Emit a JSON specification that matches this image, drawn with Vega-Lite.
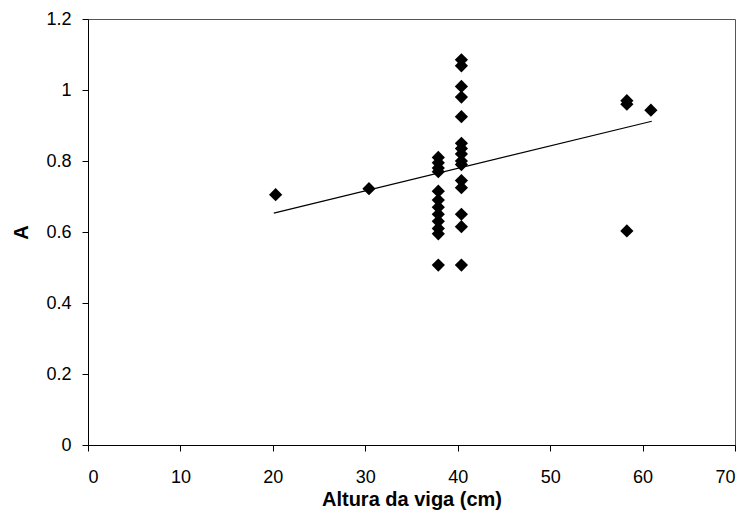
{
  "$schema": "https://vega.github.io/schema/vega-lite/v6.json",
  "width": 647,
  "height": 426,
  "autosize": "none",
  "padding": {"left": 88, "top": 19, "right": 13, "bottom": 77},
  "background": "white",
  "config": {
    "view": {"stroke": "#555555", "strokeWidth": 1},
    "font": "Liberation Sans",
    "axis": {
      "grid": false,
      "domainColor": "black",
      "domainWidth": 1,
      "tickColor": "black",
      "tickSize": 6,
      "labelFont": "Liberation Sans",
      "labelFontSize": 18,
      "labelColor": "black",
      "titleFont": "Liberation Sans",
      "titleFontSize": 20,
      "titleFontWeight": "bold",
      "titleColor": "black"
    }
  },
  "datasets": {
    "amostras": [
      {"altura": 20.3, "A": 0.705},
      {"altura": 30.4, "A": 0.722},
      {"altura": 37.9, "A": 0.81},
      {"altura": 37.9, "A": 0.795},
      {"altura": 37.9, "A": 0.78},
      {"altura": 37.9, "A": 0.77},
      {"altura": 37.9, "A": 0.715},
      {"altura": 37.9, "A": 0.69},
      {"altura": 37.9, "A": 0.67},
      {"altura": 37.9, "A": 0.65},
      {"altura": 37.9, "A": 0.63},
      {"altura": 37.9, "A": 0.61},
      {"altura": 37.9, "A": 0.595},
      {"altura": 37.9, "A": 0.507},
      {"altura": 40.4, "A": 1.085},
      {"altura": 40.4, "A": 1.068},
      {"altura": 40.4, "A": 1.01},
      {"altura": 40.4, "A": 0.98},
      {"altura": 40.4, "A": 0.925},
      {"altura": 40.4, "A": 0.85},
      {"altura": 40.4, "A": 0.835},
      {"altura": 40.4, "A": 0.82},
      {"altura": 40.4, "A": 0.80},
      {"altura": 40.4, "A": 0.79},
      {"altura": 40.4, "A": 0.745},
      {"altura": 40.4, "A": 0.725},
      {"altura": 40.4, "A": 0.65},
      {"altura": 40.4, "A": 0.615},
      {"altura": 40.4, "A": 0.507},
      {"altura": 58.3, "A": 0.97},
      {"altura": 58.3, "A": 0.96},
      {"altura": 58.3, "A": 0.603},
      {"altura": 60.9, "A": 0.943}
    ],
    "tendencia": [
      {"altura": 20.1, "A": 0.653},
      {"altura": 61.0, "A": 0.912}
    ]
  },
  "layer": [
    {
      "data": {"name": "tendencia"},
      "mark": {"type": "line", "color": "black", "strokeWidth": 1.2},
      "encoding": {
        "x": {
          "field": "altura",
          "type": "quantitative",
          "scale": {"domain": [0, 70], "nice": false},
          "axis": {
            "values": [0, 10, 20, 30, 40, 50, 60, 70],
            "title": "Altura da viga (cm)",
            "labelPadding": 17,
            "titlePadding": 3
          }
        },
        "y": {
          "field": "A",
          "type": "quantitative",
          "scale": {"domain": [0, 1.2], "nice": false},
          "axis": {
            "values": [0, 0.2, 0.4, 0.6, 0.8, 1, 1.2],
            "format": ".1~f",
            "title": "A",
            "labelPadding": 11,
            "titlePadding": 14
          }
        }
      }
    },
    {
      "data": {"name": "amostras"},
      "mark": {"type": "point", "shape": "diamond", "filled": true, "color": "black", "opacity": 1, "size": 175},
      "encoding": {
        "x": {"field": "altura", "type": "quantitative"},
        "y": {"field": "A", "type": "quantitative"}
      }
    }
  ]
}
